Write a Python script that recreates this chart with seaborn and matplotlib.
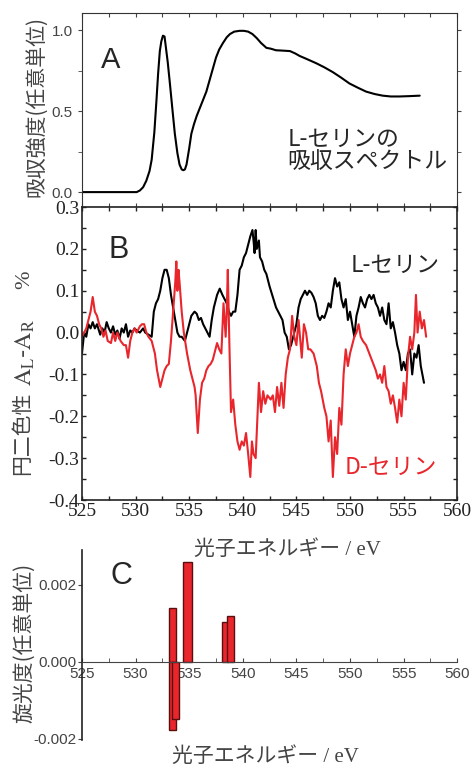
import numpy as np
import matplotlib
matplotlib.use("Agg")
import matplotlib.pyplot as plt
import seaborn as sns
from matplotlib.ticker import MultipleLocator, FixedLocator, FormatStrFormatter

# A: 吸収スペクトル (L-セリン)
abs_ev = [525.0, 527.0, 529.0, 530.1, 530.4, 530.7, 531.0, 531.3, 531.5, 531.75, 531.95,
          532.1, 532.26, 532.4, 532.55, 532.7, 532.85, 533.0, 533.2, 533.45, 533.66, 533.9,
          534.1, 534.3, 534.45, 534.6, 534.75, 535.0, 535.2, 535.45, 535.7, 536.0, 536.3,
          536.6, 536.9, 537.2, 537.5, 537.8, 538.15, 538.5, 538.8, 539.2, 539.7, 540.1,
          540.5, 540.9, 541.3, 541.7, 542.2, 542.6, 543.1, 543.7, 544.4, 544.9, 545.3,
          546.0, 546.85, 547.6, 548.4, 549.2, 549.95, 550.7, 551.5, 552.3, 553.05, 553.8,
          554.6, 555.5, 556.5]
abs_val = [0.0, 0.0, 0.0, 0.0, 0.01, 0.03, 0.07, 0.13, 0.2, 0.37, 0.57,
           0.73, 0.87, 0.93, 0.965, 0.96, 0.88, 0.8, 0.67, 0.5, 0.36, 0.24,
           0.17, 0.14, 0.135, 0.14, 0.17, 0.27, 0.36, 0.42, 0.47, 0.52, 0.57,
           0.62, 0.69, 0.76, 0.83, 0.88, 0.92, 0.955, 0.975, 0.99, 0.995, 0.995,
           0.99, 0.975, 0.95, 0.92, 0.89, 0.885, 0.875, 0.873, 0.87, 0.855, 0.84,
           0.82, 0.795, 0.77, 0.74, 0.705, 0.67, 0.645, 0.62, 0.605, 0.595, 0.59,
           0.59, 0.592, 0.595]

# B: 円二色性 L-セリン (黒)
l_ev = [525.0, 525.2, 525.4, 525.6, 525.8, 526.0, 526.2, 526.4, 526.7, 526.9, 527.1,
        527.3, 527.5, 527.7, 527.9, 528.1, 528.3, 528.5, 528.7, 528.9, 529.1, 529.3,
        529.5, 529.7, 529.9, 530.1, 530.4, 530.7, 530.9, 531.2, 531.5, 531.7, 531.9,
        532.1, 532.3, 532.5, 532.7, 532.9, 533.1, 533.3, 533.5, 533.7, 533.9, 534.1,
        534.3, 534.6, 534.8, 535.0, 535.2, 535.5, 535.7, 535.9, 536.1, 536.3, 536.5,
        536.7, 536.9, 537.1, 537.3, 537.6, 537.85, 538.1, 538.3, 538.5, 538.7, 538.9,
        539.1, 539.3, 539.5, 539.7, 539.9, 540.1, 540.3, 540.5, 540.7, 540.9, 541.0,
        541.1, 541.2, 541.3, 541.5, 541.6, 541.8, 542.0, 542.2, 542.5, 542.8, 543.1,
        543.4, 543.7, 543.9, 544.1, 544.3, 544.5, 544.7, 545.0, 545.2, 545.4, 545.6,
        545.8, 546.0, 546.2, 546.4, 546.6, 546.8, 547.0, 547.2, 547.4, 547.6, 547.8,
        548.0, 548.2, 548.4, 548.6, 548.8, 549.0, 549.2, 549.4, 549.6, 549.8, 550.0,
        550.2, 550.4, 550.6, 550.8, 551.0, 551.2, 551.4, 551.6, 551.8, 552.0, 552.2,
        552.4, 552.6, 552.8, 553.0, 553.2, 553.4, 553.6, 553.8, 554.0, 554.2, 554.4,
        554.6, 554.8, 555.0, 555.2, 555.4, 555.6, 555.8, 556.0, 556.2, 556.4, 556.6,
        556.9]
l_cd = [-0.05, 0.0, -0.01, 0.02, 0.01, 0.025, 0.01, 0.02, -0.005, 0.01, 0.0,
        0.025, 0.01, 0.0, 0.015, -0.005, 0.005, -0.015, 0.01, 0.0, 0.02, -0.01,
        0.005, 0.0, 0.01, 0.005, 0.0, 0.01, 0.0, -0.005, -0.01, 0.05, 0.07,
        0.08, 0.1, 0.13, 0.15, 0.15, 0.13, 0.09, 0.06, 0.03, 0.0, -0.01,
        -0.01, -0.02, 0.0, 0.02, 0.04, 0.05, 0.045, 0.03, 0.035, 0.02, 0.01,
        0.0, -0.01, 0.03, 0.06, 0.09, 0.105, 0.09, 0.08, 0.07, 0.05, 0.04,
        0.05, 0.05, 0.09, 0.15, 0.16, 0.18, 0.19, 0.21, 0.23, 0.245, 0.22,
        0.19, 0.245, 0.2, 0.22, 0.18, 0.17, 0.15, 0.14, 0.11, 0.085, 0.06,
        0.045, 0.03, 0.0, -0.01, -0.04, -0.03, -0.01, 0.02, 0.06, 0.08, 0.09,
        0.1, 0.09, 0.1, 0.095, 0.085, 0.07, 0.04, 0.03, 0.04, 0.035, 0.05,
        0.07, 0.06, 0.1, 0.13, 0.11, 0.12, 0.08, 0.06, 0.08, 0.03, 0.05,
        0.02, -0.01, 0.04, 0.06, 0.085, 0.07, 0.06, 0.08, 0.09, 0.08, 0.09,
        0.07, 0.06, 0.04, 0.06, 0.03, 0.02, 0.07, 0.01, 0.025, 0.0, -0.03,
        -0.05, -0.09, -0.07, -0.09, -0.05, -0.04, -0.1, -0.05, -0.06, -0.03, -0.08,
        -0.12]

# B: 円二色性 D-セリン (赤)
d_ev = [525.0, 525.2, 525.4, 525.6, 525.8, 526.0, 526.2, 526.4, 526.6, 526.8, 527.0,
        527.2, 527.4, 527.7, 527.9, 528.1, 528.3, 528.6, 528.9, 529.1, 529.3, 529.5,
        529.7, 529.9, 530.1, 530.4, 530.6, 530.8, 531.0, 531.2, 531.5, 531.8, 532.0,
        532.3, 532.5, 532.7, 532.9, 533.1, 533.3, 533.5, 533.7, 533.8, 533.9, 534.0,
        534.1, 534.3, 534.5, 534.8, 535.1, 535.3, 535.5, 535.6, 535.8, 536.0, 536.2,
        536.4, 536.6, 536.8, 537.0, 537.2, 537.4, 537.6, 537.8, 538.0, 538.2, 538.4,
        538.5, 538.6, 538.75, 538.9, 539.1, 539.3, 539.5, 539.7, 539.9, 540.1, 540.3,
        540.5, 540.7, 540.85, 541.0, 541.2, 541.5, 541.7, 541.9, 542.1, 542.3, 542.6,
        542.8, 543.0, 543.2, 543.4, 543.6, 543.8, 544.0, 544.2, 544.4, 544.6, 544.8,
        545.0, 545.2, 545.5, 545.7, 545.9, 546.1, 546.3, 546.6, 546.9, 547.1, 547.3,
        547.6, 547.8, 548.0, 548.2, 548.4, 548.6, 548.8, 549.0, 549.2, 549.4, 549.6,
        549.8, 550.0, 550.2, 550.4, 550.6, 550.8, 551.0, 551.2, 551.5, 551.8, 552.1,
        552.4, 552.6, 552.8, 553.0, 553.2, 553.4, 553.6, 553.8, 554.0, 554.2, 554.4,
        554.6, 554.8, 555.0, 555.2, 555.4, 555.6, 555.8, 556.0, 556.15, 556.3, 556.5,
        556.7, 556.9, 557.1]
d_cd = [-0.01, 0.0, 0.01, 0.03, 0.05, 0.085, 0.05, 0.04, 0.02, 0.01, -0.01,
        0.005, -0.02, -0.025, 0.0, -0.02, 0.0, -0.02, -0.03, -0.03, -0.06, -0.02,
        0.0, 0.01, 0.0, 0.015, 0.02, 0.02, 0.0, -0.01, -0.02, -0.05, -0.09,
        -0.13, -0.11, -0.09, -0.08, -0.075, -0.02, 0.05, 0.12, 0.17, 0.1, 0.15,
        0.12, 0.05, 0.0, -0.05, -0.09, -0.11, -0.13, -0.15, -0.24, -0.16, -0.12,
        -0.11, -0.09, -0.08, -0.075, -0.065, -0.045, -0.025, -0.04, -0.05, 0.07, -0.01,
        0.05, 0.15, -0.03, -0.19, -0.16, -0.22, -0.26, -0.28, -0.26, -0.27, -0.24,
        -0.29, -0.345, -0.26, -0.29, -0.3, -0.12, -0.19, -0.14, -0.17, -0.15, -0.16,
        -0.15, -0.19, -0.13, -0.175, -0.12, -0.18, -0.1, -0.06, -0.04, 0.04, -0.01,
        -0.03, 0.03, -0.06, 0.02, 0.0, -0.04, -0.04, -0.05, -0.08, -0.12, -0.14,
        -0.18, -0.2, -0.26, -0.21, -0.345, -0.25, -0.29, -0.18, -0.22, -0.1, -0.04,
        -0.08, -0.05, -0.03, -0.01, 0.0, 0.02, -0.01, -0.02, -0.03, -0.05, -0.07,
        -0.09, -0.11, -0.1, -0.12, -0.08, -0.13, -0.14, -0.17, -0.15, -0.18, -0.215,
        -0.16, -0.2, -0.12, -0.16, -0.06, -0.01, -0.04, 0.0, 0.09, 0.0, 0.05,
        0.01, 0.03, -0.01]

# C: 旋光度
rot_ev = [533.43, 533.43, 533.68, 534.85, 538.35, 538.85]
rot_val = [0.0014, -0.00178, -0.00148, 0.00258, 0.00102, 0.0012]
rot_w = [0.65, 0.65, 0.65, 0.8, 0.5, 0.7]

sns.set_style("ticks")
plt.rcParams["font.family"] = ["Noto Sans CJK JP", "DejaVu Sans"]
plt.rcParams["mathtext.fontset"] = "stix"

gray = "#444444"
red = "#e8262c"
jp = ["Noto Sans CJK JP", "DejaVu Sans"]
serif_jp = ["Liberation Serif", "Noto Sans CJK JP"]

fig = plt.figure(figsize=(4.75, 7.69), dpi=100)
ax_a = fig.add_axes([0.1726, 0.7308, 0.790, 0.2523])
ax_b = fig.add_axes([0.1726, 0.3498, 0.790, 0.3810])
ax_c = fig.add_axes([0.1726, 0.0377, 0.790, 0.2471])
ax_c.patch.set_visible(False)

# --- A ---
sns.lineplot(x=abs_ev, y=abs_val, ax=ax_a, color="black", lw=1.5,
             estimator=None, sort=False)
ax_a.set_xlim(525, 560)
ax_a.set_ylim(-0.092, 1.105)
ax_a.xaxis.set_major_locator(MultipleLocator(2.5))
ax_a.set_xticklabels([])
ax_a.yaxis.set_major_locator(FixedLocator([0.0, 0.5, 1.0]))
ax_a.yaxis.set_minor_locator(MultipleLocator(0.25))
ax_a.yaxis.set_major_formatter(FormatStrFormatter("%.1f"))
ax_a.tick_params(axis="x", direction="in", top=True, length=3, color=gray)
ax_a.tick_params(axis="y", which="both", direction="out", right=True, length=3, color=gray)
for lab in ax_a.get_yticklabels():
    lab.set_family("Liberation Sans")
    lab.set_fontsize(11)
    lab.set_color(gray)
for s in ax_a.spines.values():
    s.set_color("#333333")
ax_a.set_xlabel("")
ax_a.set_ylabel("吸収強度(任意単位)", fontsize=15, color=gray, family=jp)
ax_a.yaxis.set_label_coords(-0.093, 0.52)
ax_a.text(0.05, 0.76, "A", transform=ax_a.transAxes, fontsize=21,
          family="Liberation Sans", va="center", ha="left")
ax_a.text(0.547, 0.41, "L-セリンの\n吸収スペクトル", transform=ax_a.transAxes,
          fontsize=16.5, family=jp, va="top", ha="left", linespacing=1.0)

# --- B ---
sns.lineplot(x=l_ev, y=l_cd, ax=ax_b, color="black", lw=1.5,
             estimator=None, sort=False)
sns.lineplot(x=d_ev, y=d_cd, ax=ax_b, color=red, lw=1.5,
             estimator=None, sort=False)
ax_b.set_xlim(525, 560)
ax_b.set_ylim(-0.4, 0.3)
ax_b.xaxis.set_major_locator(MultipleLocator(5))
ax_b.xaxis.set_minor_locator(MultipleLocator(2.5))
ax_b.yaxis.set_major_locator(MultipleLocator(0.1))
ax_b.yaxis.set_minor_locator(MultipleLocator(0.05))
ax_b.yaxis.set_major_formatter(FormatStrFormatter("%.1f"))
ax_b.tick_params(which="both", direction="in", top=True, right=True, length=3,
                 width=1, color="#222222", labelsize=14, pad=2)
for lab in ax_b.get_xticklabels() + ax_b.get_yticklabels():
    lab.set_family("Liberation Serif")
    lab.set_color("#222222")
for s in ax_b.spines.values():
    s.set_color("#222222")
    s.set_linewidth(1.2)
# y label split in three parts (CJK, math, %)
ax_b.text(-0.131, 0.229, "円二色性", transform=ax_b.transAxes, rotation=90,
          fontsize=15, color=gray, family=jp, ha="right", va="center")
ax_b.text(-0.12, 0.505, "$\\mathrm{A_L}$-$\\mathrm{A_R}$", transform=ax_b.transAxes,
          rotation=90, fontsize=17, color=gray, ha="right", va="center")
ax_b.text(-0.128, 0.751, "%", transform=ax_b.transAxes, rotation=90,
          fontsize=16, color=gray, family="Liberation Serif", ha="right", va="center")
ax_b.set_xlabel("光子エネルギー / eV", fontsize=15, color=gray, family=serif_jp)
ax_b.xaxis.set_label_coords(0.547, -0.137)
ax_b.text(0.07, 0.853, "B", transform=ax_b.transAxes, fontsize=22,
          family="Liberation Sans", va="center", ha="left")
ax_b.text(0.715, 0.80, "L-セリン", transform=ax_b.transAxes, fontsize=16.5,
          family=jp, va="center", ha="left")
ax_b.text(0.70, 0.113, "D-セリン", transform=ax_b.transAxes, fontsize=16.5,
          family=jp, va="center", ha="left", color=red)

# --- C ---
ax_c.bar(rot_ev, rot_val, width=rot_w, color=red, edgecolor="#5a0e0e", linewidth=1)
ax_c.set_xlim(525, 560)
ax_c.set_ylim(-0.00203, 0.0029)
sns.despine(ax=ax_c)
ax_c.spines["bottom"].set_position(("data", 0))
ax_c.spines["bottom"].set_color(gray)
ax_c.spines["left"].set_color("#222222")
ax_c.spines["left"].set_linewidth(1.2)
ax_c.xaxis.set_major_locator(MultipleLocator(5))
ax_c.xaxis.set_minor_locator(MultipleLocator(2.5))
ax_c.yaxis.set_major_locator(FixedLocator([-0.002, 0.0, 0.002]))
ax_c.yaxis.set_major_formatter(FormatStrFormatter("%.3f"))
ax_c.tick_params(axis="x", which="both", direction="in", length=3, color=gray, pad=4)
ax_c.tick_params(axis="y", direction="out", length=3, color=gray, pad=1)
for lab in ax_c.get_xticklabels() + ax_c.get_yticklabels():
    lab.set_family("Liberation Sans")
    lab.set_fontsize(11)
    lab.set_color(gray)
ax_c.set_ylabel("旋光度(任意単位)", fontsize=15, color=gray, family=jp)
ax_c.yaxis.set_label_coords(-0.125, 0.51)
ax_c.set_xlabel("光子エネルギー / eV", fontsize=15, color=gray, family=serif_jp)
ax_c.xaxis.set_label_coords(0.488, -0.037)
ax_c.text(0.075, 0.863, "C", transform=ax_c.transAxes, fontsize=22,
          family="Liberation Sans", va="center", ha="left")

fig.savefig("out.png", dpi=100)
